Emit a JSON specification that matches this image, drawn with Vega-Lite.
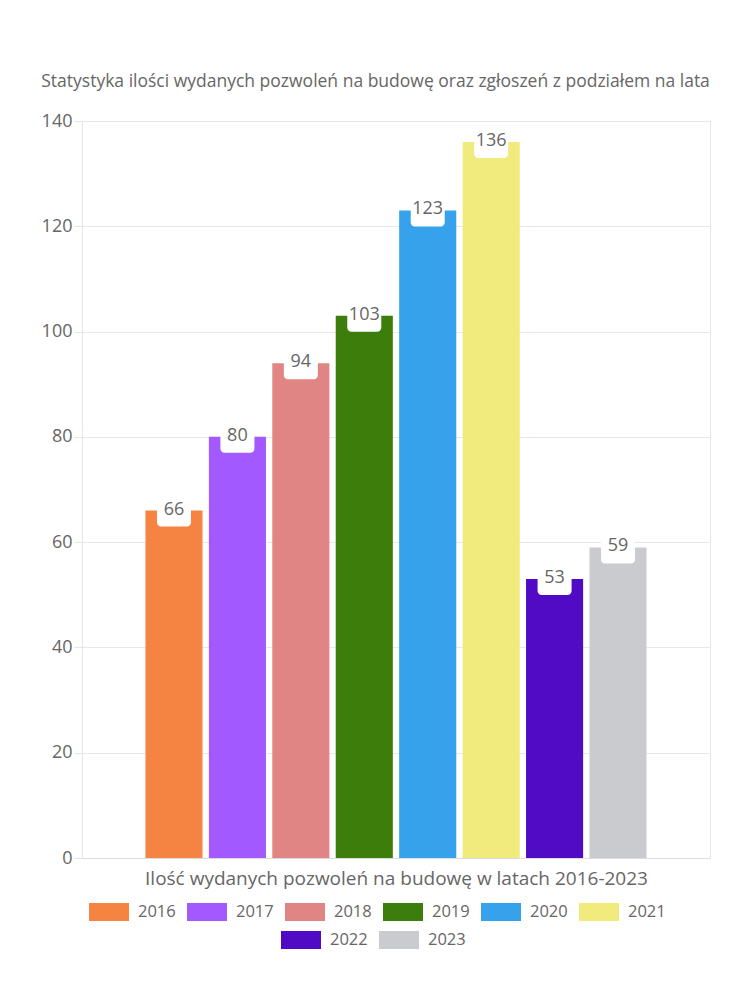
{
  "$schema": "https://vega.github.io/schema/vega-lite/v6.json",
  "width": 628,
  "height": 737,
  "autosize": {"type": "none"},
  "padding": {"left": 82, "top": 121, "right": 40, "bottom": 142},
  "background": "white",
  "title": {
    "text": "Statystyka ilości wydanych pozwoleń na budowę oraz zgłoszeń z podziałem na lata",
    "font": "Open Sans",
    "fontSize": 17.5,
    "fontWeight": "normal",
    "color": "#666666",
    "anchor": "middle",
    "frame": "bounds",
    "offset": 22
  },
  "data": {
    "values": [
      {"year": "2016", "value": 66},
      {"year": "2017", "value": 80},
      {"year": "2018", "value": 94},
      {"year": "2019", "value": 103},
      {"year": "2020", "value": 123},
      {"year": "2021", "value": 136},
      {"year": "2022", "value": 53},
      {"year": "2023", "value": 59}
    ]
  },
  "encoding": {
    "x": {
      "field": "year",
      "type": "nominal",
      "sort": null,
      "scale": {"paddingInner": 0.1, "paddingOuter": 1.09},
      "axis": {
        "title": "Ilość wydanych pozwoleń na budowę w latach 2016-2023",
        "labels": false,
        "ticks": false,
        "domain": true,
        "domainColor": "#dddddd",
        "titleFont": "Open Sans",
        "titleFontSize": 19,
        "titleFontWeight": "normal",
        "titleColor": "#666666",
        "titlePadding": 11
      }
    },
    "y": {
      "field": "value",
      "type": "quantitative",
      "scale": {"domain": [0, 140]},
      "axis": {
        "title": null,
        "values": [0, 20, 40, 60, 80, 100, 120, 140],
        "labelFont": "Open Sans",
        "labelFontSize": 18,
        "labelColor": "#666666",
        "labelPadding": 2,
        "tickSize": 8,
        "tickColor": "#e5e5e5",
        "domainColor": "#e5e5e5",
        "gridColor": "#e8e8e8"
      }
    }
  },
  "layer": [
    {
      "transform": [{"filter": "datum.year <= '2021'"}],
      "mark": {"type": "bar"},
      "encoding": {
        "color": {
          "field": "year",
          "type": "nominal",
          "scale": {
            "domain": ["2016", "2017", "2018", "2019", "2020", "2021"],
            "range": ["#F58442", "#A259FF", "#E08484", "#3D7D0C", "#36A2EB", "#F0EB7C"]
          },
          "legend": {"orient": "none", "direction": "horizontal", "columns": 6, "legendX": 7, "legendY": 771}
        }
      }
    },
    {
      "transform": [{"filter": "datum.year >= '2022'"}],
      "mark": {"type": "bar"},
      "encoding": {
        "color": {
          "field": "year",
          "type": "nominal",
          "scale": {
            "domain": ["2022", "2023"],
            "range": ["#510BC4", "#C9CBCF"]
          },
          "legend": {"orient": "none", "direction": "horizontal", "columns": 2, "legendX": 199, "legendY": 799}
        }
      }
    },
    {
      "mark": {"type": "bar", "fill": "white", "width": 34, "cornerRadius": 4, "yOffset": -16, "y2Offset": 16},
      "encoding": {
        "y2": {"field": "value"}
      }
    },
    {
      "mark": {"type": "text", "font": "Open Sans", "fontSize": 18, "color": "#666666", "baseline": "middle", "dy": -1},
      "encoding": {
        "text": {"field": "value", "type": "quantitative"}
      }
    }
  ],
  "resolve": {"scale": {"color": "independent"}},
  "config": {
    "view": {"stroke": "#e5e5e5"},
    "axis": {"gridColor": "#e8e8e8"},
    "legend": {
      "title": null,
      "symbolType": "M-1,-0.45H1V0.45H-1Z",
      "symbolSize": 1600,
      "symbolStrokeWidth": 0,
      "symbolOpacity": 1,
      "labelFont": "Open Sans",
      "labelFontSize": 16.5,
      "labelColor": "#666666",
      "labelOffset": 9,
      "columnPadding": 11,
      "padding": 0
    }
  }
}
